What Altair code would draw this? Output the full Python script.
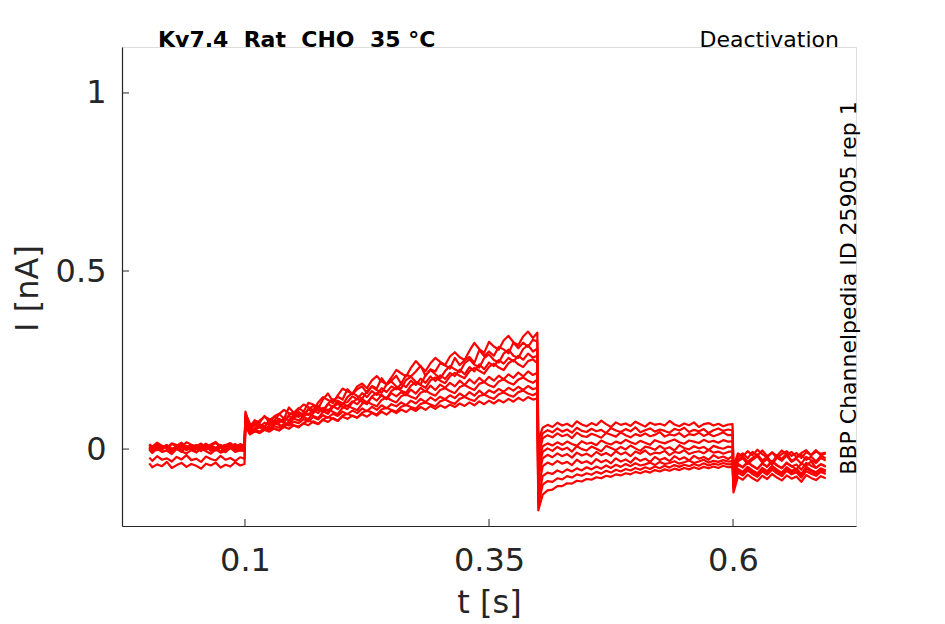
import altair as alt
import pandas as pd

# ---- sampling times (ms) for the four protocol phases ----
times_p1 = [2] + list(range(5, 100, 5)) + [99.5]
times_p2 = [100.5] + list(range(105, 400, 5)) + [399.5]
times_p3 = [400.5] + list(range(405, 600, 5)) + [599.5]
times_p4 = [600.5] + list(range(605, 700, 5))
times_ms = times_p1 + times_p2 + times_p3 + times_p4

# ---- current traces (pA); phases: hold | test | tail | return ----
sweep1 = ([8, 2, 14, 4, 11, -3, 9, 16, 3, 12, 0, 7, 15, 5, -2, 10, 6, 13, 1, 9, 6]
          + [100, 72, 66, 80, 91, 84, 79, 98, 110, 101, 95, 112, 125, 118, 109, 131, 146, 138, 129, 151, 170,
             162, 155, 176, 184, 171, 193, 205, 190, 182, 201, 222, 213, 204, 228, 247, 232, 219, 241, 256, 245,
             236, 260, 272, 258, 250, 276, 298, 281, 270, 301, 288, 279, 305, 318, 300, 292, 316, 330, 312, 327]
          + [25, 60, 68, 62, 74, 66, 71, 63, 78, 69, 64, 73, 67, 80, 70, 62, 75, 68, 72, 65, 77,
             70, 63, 74, 68, 71, 66, 79, 69, 64, 72, 67, 75, 62, 70, 73, 66, 71, 64, 69, 70]
          + [-55, -22, -12, -26, -8, -18, -4, -20, -10, -24, -14, -6, -19, -11, -25, -9, -16, -3, -18, -12])
sweep2 = ([-4, 6, -2, 9, 1, -7, 4, 11, -3, 5, -9, 2, 8, -5, 3, 12, -1, 6, -6, 0, 4]
          + [105, 62, 81, 74, 93, 74, 92, 99, 85, 117, 102, 115, 105, 130, 125, 114, 140, 156, 134, 147, 139,
             168, 154, 168, 176, 157, 177, 170, 199, 181, 192, 206, 183, 208, 204, 218, 234, 206, 224, 218, 241,
             235, 226, 256, 236, 249, 259, 242, 278, 261, 274, 262, 287, 280, 269, 299, 283, 299, 287, 307, 302]
          + [5, 44, 53, 47, 58, 49, 55, 46, 60, 51, 48, 57, 50, 54, 45, 59, 52, 48, 56, 50, 61,
             47, 53, 58, 49, 55, 51, 46, 57, 52, 60, 48, 54, 50, 56, 45, 53, 58, 51, 55, 52]
          + [-70, -34, -26, -42, -30, -20, -38, -28, -44, -24, -33, -18, -36, -27, -41, -22, -31, -39, -25, -32])
sweep3 = ([12, 3, 16, 7, 1, 14, 9, 18, 4, 11, 6, 15, 2, 10, 17, 5, 12, 8, 14, 3, 10]
          + [95, 60, 74, 69, 63, 82, 90, 84, 77, 96, 104, 99, 92, 113, 121, 110, 104, 127, 140, 131, 124,
             146, 158, 149, 141, 163, 175, 166, 158, 181, 190, 176, 170, 194, 203, 189, 182, 207, 222, 210, 198,
             219, 233, 224, 216, 241, 252, 237, 229, 255, 266, 250, 243, 268, 279, 262, 256, 281, 292, 274, 282]
          + [-20, 30, 39, 33, 44, 36, 41, 31, 46, 37, 34, 43, 38, 32, 45, 40, 35, 47, 39, 33, 42,
             37, 44, 36, 40, 48, 35, 41, 38, 45, 34, 42, 39, 46, 37, 43, 36, 41, 47, 39, 40]
          + [-50, -12, -21, -6, -17, -2, -14, -24, -9, -19, -4, -15, -8, -22, -11, -3, -18, -7, -13, -10])
sweep4 = ([-2, -11, 1, -8, -4, -14, 0, -7, -12, -3, -9, 2, -6, -13, -1, -10, -5, 3, -8, -4, -6]
          + [88, 63, 54, 70, 62, 79, 69, 85, 76, 93, 88, 104, 95, 112, 101, 121, 109, 127, 118, 136, 128,
             132, 148, 140, 157, 146, 163, 152, 171, 160, 176, 168, 183, 174, 192, 180, 198, 186, 204, 191, 207,
             197, 214, 205, 223, 210, 230, 218, 238, 224, 243, 233, 250, 240, 256, 246, 262, 251, 268, 257, 262]
          + [-40, 8, 16, 10, 19, 12, 21, 14, 9, 22, 15, 18, 11, 24, 17, 13, 21, 16, 26, 19, 14,
             23, 18, 12, 25, 20, 16, 22, 27, 19, 15, 24, 21, 17, 26, 20, 23, 18, 25, 21, 22]
          + [-82, -42, -50, -36, -47, -55, -40, -49, -33, -45, -53, -38, -48, -57, -41, -46, -35, -52, -43, -50])
sweep5 = ([6, -4, 9, 1, 7, -5, 4, 11, -2, 5, 0, 8, -3, 10, 3, -6, 6, 12, -1, 4, 7]
          + [82, 50, 59, 66, 61, 55, 72, 80, 74, 69, 88, 97, 90, 84, 102, 113, 106, 99, 118, 127, 119,
             112, 131, 141, 133, 126, 148, 157, 150, 142, 163, 172, 164, 158, 178, 188, 180, 172, 193, 201, 192,
             185, 204, 214, 206, 199, 219, 228, 220, 212, 231, 240, 229, 222, 241, 250, 238, 230, 247, 252, 241]
          + [-60, -8, 2, -5, 6, -2, 4, -7, 8, 0, -4, 7, 1, -6, 9, 3, -3, 6, -1, 10, 2,
             -5, 7, 4, -2, 9, 0, 5, -4, 11, 3, -1, 8, 2, 6, -3, 9, 4, 1, 7, 5]
          + [-92, -30, -20, -36, -25, -15, -32, -22, -38, -18, -28, -12, -34, -24, -16, -30, -21, -35, -19, -26])
sweep6 = ([14, 6, 18, 9, 3, 16, 11, 5, 19, 12, 8, 15, 4, 13, 20, 7, 11, 17, 6, 14, 10]
          + [90, 56, 68, 62, 74, 69, 80, 73, 87, 81, 95, 90, 102, 96, 110, 101, 116, 107, 121, 112, 128,
             120, 134, 126, 141, 130, 146, 136, 152, 140, 157, 148, 160, 151, 167, 156, 172, 161, 178, 166, 181,
             172, 186, 176, 192, 180, 196, 184, 200, 188, 203, 192, 206, 196, 210, 200, 215, 204, 218, 208, 214]
          + [-80, -26, -16, -23, -12, -20, -14, -24, -10, -18, -13, -21, -8, -17, -11, -19, -6, -15, -9, -20, -7,
             -13, -4, -16, -10, -12, -5, -17, -8, -11, -3, -14, -9, -6, -12, -2, -10, -7, -13, -8, -6]
          + [-100, -56, -64, -50, -60, -68, -53, -62, -47, -58, -66, -51, -61, -55, -70, -49, -59, -65, -54, -60])
sweep7 = ([-40, -51, -43, -48, -36, -53, -45, -39, -50, -42, -47, -55, -41, -46, -38, -52, -44, -49, -37, -46, -42]
          + [78, 48, 54, 61, 56, 66, 73, 68, 62, 79, 86, 80, 92, 99, 93, 87, 104, 111, 105, 98, 116,
             122, 115, 109, 127, 133, 126, 120, 138, 145, 137, 131, 148, 154, 147, 141, 158, 164, 156, 150, 166,
             171, 163, 157, 174, 180, 172, 166, 183, 188, 179, 174, 190, 196, 187, 181, 195, 201, 192, 186, 195]
          + [-110, -48, -38, -44, -33, -41, -36, -45, -30, -39, -34, -42, -28, -37, -31, -40, -26, -35, -29, -38, -24,
             -33, -27, -36, -22, -31, -25, -34, -20, -29, -23, -32, -19, -27, -22, -30, -17, -25, -21, -28, -20]
          + [-112, -66, -74, -60, -70, -78, -63, -72, -58, -68, -76, -61, -71, -65, -80, -62, -69, -75, -64, -70])
sweep8 = ([-24, -33, -20, -30, -26, -35, -22, -29, -17, -31, -27, -36, -21, -28, -32, -19, -30, -25, -34, -23, -27]
          + [74, 44, 54, 49, 59, 55, 65, 60, 71, 66, 77, 73, 84, 78, 90, 83, 95, 88, 99, 93, 105,
             98, 108, 101, 114, 106, 119, 110, 123, 114, 126, 120, 131, 123, 136, 128, 141, 132, 145, 136, 147,
             140, 151, 143, 156, 147, 160, 150, 164, 153, 165, 158, 169, 161, 172, 164, 175, 166, 177, 168, 172]
          + [-140, -76, -66, -70, -60, -66, -57, -63, -54, -60, -51, -57, -49, -55, -46, -53, -44, -50, -42, -48, -40,
             -46, -43, -38, -45, -36, -42, -39, -34, -41, -37, -32, -39, -35, -30, -38, -33, -36, -31, -35, -34]
          + [-90, -44, -52, -38, -48, -56, -41, -50, -35, -46, -54, -40, -49, -43, -58, -39, -47, -53, -42, -48])
sweep9 = ([3, -7, 6, -2, 9, -5, 2, -8, 7, -1, 4, -6, 10, 0, -4, 5, -9, 3, 8, -3, 2]
          + [70, 44, 50, 46, 55, 61, 57, 52, 64, 70, 66, 61, 73, 80, 75, 70, 84, 90, 85, 79, 94,
             99, 93, 88, 102, 108, 103, 97, 111, 116, 110, 105, 119, 124, 118, 113, 127, 131, 125, 120, 134,
             139, 132, 127, 141, 146, 140, 135, 149, 153, 146, 141, 154, 159, 152, 147, 160, 164, 156, 151, 158]
          + [-155, -100, -90, -92, -82, -85, -76, -80, -71, -75, -68, -72, -64, -69, -61, -66, -58, -63, -56, -60, -53,
             -58, -51, -56, -49, -54, -47, -52, -45, -50, -44, -48, -42, -47, -40, -46, -41, -44, -39, -43, -42]
          + [-105, -60, -68, -54, -64, -72, -57, -66, -51, -62, -70, -56, -65, -59, -74, -55, -63, -69, -58, -64])
sweep10 = ([0, 8, -3, 6, 11, 1, 7, -2, 9, 3, 12, -1, 5, 10, 2, 8, -4, 6, 13, 1, 5]
           + [66, 41, 50, 45, 54, 49, 58, 53, 62, 57, 67, 63, 72, 67, 78, 71, 82, 76, 87, 80, 91,
              85, 94, 88, 98, 91, 101, 94, 105, 97, 108, 101, 111, 104, 114, 107, 118, 110, 121, 113, 123,
              116, 125, 118, 128, 121, 131, 123, 134, 126, 136, 128, 138, 131, 141, 133, 144, 136, 146, 139, 142]
           + [-172, -128, -116, -114, -104, -104, -96, -97, -89, -91, -84, -86, -79, -82, -75, -78, -71, -74, -68, -71, -64,
              -68, -62, -66, -59, -63, -57, -61, -55, -59, -53, -57, -51, -56, -50, -54, -49, -53, -47, -51, -50]
           + [-122, -78, -86, -72, -82, -90, -75, -84, -70, -80, -88, -74, -83, -77, -92, -73, -81, -87, -76, -82])

sweeps = [sweep1, sweep2, sweep3, sweep4, sweep5, sweep6, sweep7, sweep8, sweep9, sweep10]

x_tick_values = [0.1, 0.35, 0.6]
y_tick_values = [0, 0.5, 1]

title_text = "Kv7.4\u00a0 Rat\u00a0 CHO\u00a0 35 °C"
protocol_text = "Deactivation"
source_text = "BBP Channelpedia ID 25905 rep 1"

# ---- build table (ms -> s, pA -> nA) ----
rows = []
for k, s in enumerate(sweeps):
    assert len(s) == len(times_ms), (k, len(s), len(times_ms))
    for j, (t, v) in enumerate(zip(times_ms, s)):
        rows.append({"t": t / 1000.0, "I": v / 1000.0, "sweep": k, "order": j})
df = pd.DataFrame(rows)

W, H = 734, 479
FONT = "DejaVu Sans"
AX = "#262626"

xscale = alt.Scale(domain=[-0.026, 0.726], nice=False, zero=False)
yscale = alt.Scale(domain=[-0.216, 1.129], nice=False, zero=False)

lines = alt.Chart(df).mark_line(color="#ff0000", strokeWidth=2.2, strokeJoin="round").encode(
    x=alt.X("t:Q", scale=xscale,
            axis=alt.Axis(values=x_tick_values, format=".2~f", title="t [s]",
                          ticks=False, tickSize=0, grid=False,
                          domainColor=AX, domainWidth=1.2,
                          labelFont=FONT, labelFontSize=32, labelColor=AX,
                          labelPadding=19,
                          titleFont=FONT, titleFontSize=32, titleFontWeight="normal",
                          titleColor=AX, titleY=76, titleBaseline="middle")),
    y=alt.Y("I:Q", scale=yscale,
            axis=alt.Axis(values=y_tick_values, format="~g", title="I [nA]",
                          ticks=False, tickSize=0, grid=False,
                          domainColor=AX, domainWidth=1.2,
                          labelFont=FONT, labelFontSize=32, labelColor=AX,
                          labelPadding=16,
                          titleFont=FONT, titleFontSize=32, titleFontWeight="normal",
                          titleColor=AX, titleX=-95, titleY=241,
                          titleBaseline="middle")),
    detail="sweep:N",
    order="order:Q",
)

xt = alt.Chart(pd.DataFrame({"v": x_tick_values})).mark_rule(color=AX, strokeWidth=1).encode(
    x=alt.X("v:Q", scale=xscale), y=alt.value(H - 7), y2=alt.value(H))
yt = alt.Chart(pd.DataFrame({"v": y_tick_values})).mark_rule(color=AX, strokeWidth=1).encode(
    y=alt.Y("v:Q", scale=yscale), x=alt.value(0), x2=alt.value(7))

title_mark = alt.Chart(pd.DataFrame({"s": [title_text]})).mark_text(
    font=FONT, fontSize=22, fontWeight="bold", color="black",
    align="left", baseline="alphabetic").encode(
    text="s:N", x=alt.value(36), y=alt.value(0))
proto_mark = alt.Chart(pd.DataFrame({"s": [protocol_text]})).mark_text(
    font=FONT, fontSize=22, color="black",
    align="right", baseline="alphabetic").encode(
    text="s:N", x=alt.value(717), y=alt.value(0))
source_mark = alt.Chart(pd.DataFrame({"s": [source_text]})).mark_text(
    font=FONT, fontSize=22, color="black", angle=270,
    align="center", baseline="middle").encode(
    text="s:N", x=alt.value(727), y=alt.value(241))

chart = alt.layer(lines, xt, yt, title_mark, proto_mark, source_mark).properties(
    width=W, height=H,
    autosize=alt.AutoSizeParams(type="none"),
    padding={"left": 114, "top": 39, "right": 70, "bottom": 95},
).configure_view(stroke=None).configure(background="white")

chart.save("out.html", embed_options={"renderer": "svg", "actions": False})
